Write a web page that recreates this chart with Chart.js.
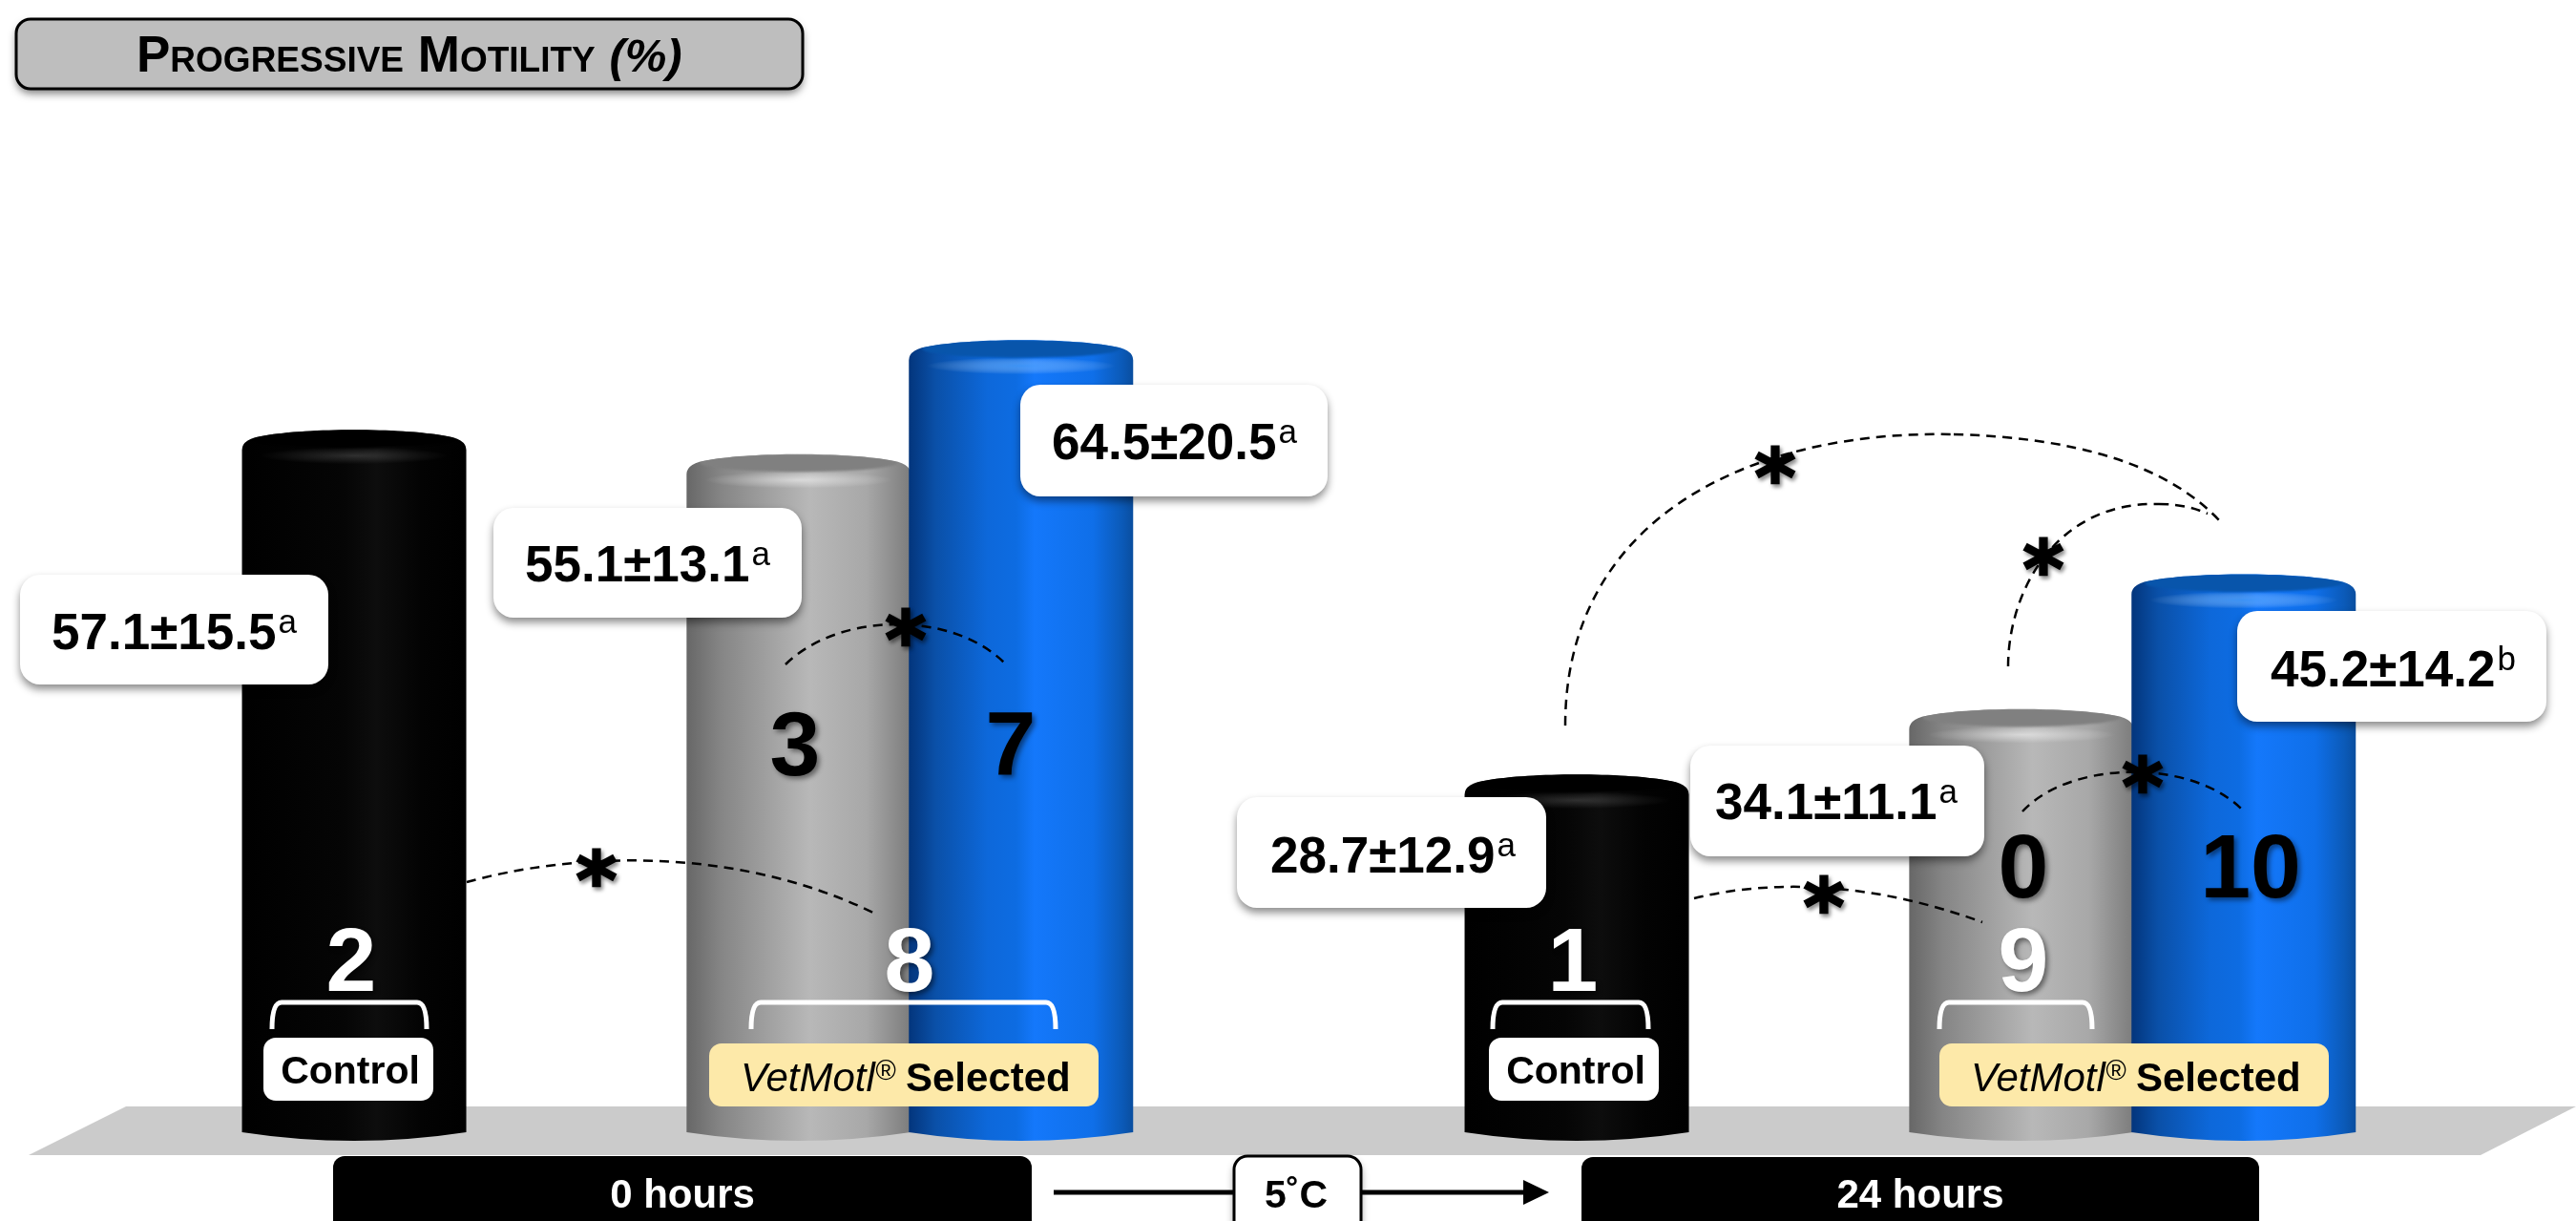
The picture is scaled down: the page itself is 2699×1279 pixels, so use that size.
<!DOCTYPE html>
<html>
<head>
<meta charset="utf-8">
<title>Progressive Motility</title>
<script src="https://cdn.jsdelivr.net/npm/chart.js@4"></script>
<style>
html, body { margin: 0; padding: 0; background: #fff; overflow: hidden; }
canvas { display: block; }
</style>
</head>
<body>
<canvas id="chartMotility" width="2699" height="1279"></canvas>
<script>
// blank slots only keep the gaps between the cylinders
const categories = ['Control 0 h', '', '', '', 'VetMotl 0 h (A)', '', 'VetMotl 0 h (B)', '', '', '', '', 'Control 24 h', '', '', '', 'VetMotl 24 h (A)', '', 'VetMotl 24 h (B)'];
const means = [57.1, null, null, null, 55.1, null, 64.5, null, null, null, null, 28.7, null, null, null, 34.1, null, 45.2];
const labelMeans = ['57.1', '55.1', '64.5', '28.7', '34.1', '45.2'];
const labelSds = ['15.5', '13.1', '20.5', '12.9', '11.1', '14.2'];
const labelLetters = ['a', 'a', 'a', 'a', 'a', 'b'];
const barKinds = ['black', null, null, null, 'gray', null, 'blue', null, null, null, null, 'black', null, null, null, 'gray', null, 'blue'];
const bigNumbers = ['2', '8', '3', '7', '1', '9', '0', '10'];
const titleText = 'Progressive Motility';
const stageLabels = ['0 hours', '24 hours'];

// cylinder colours
const palettes = {
    black: { face: '#000000', glow: 'rgba(255,255,255,0.16)', stops: [[0, '#000'], [0.45, '#050505'], [0.6, '#0d0d0d'], [0.8, '#030303'], [1, '#000']] },
    gray: { face: '#808080', glow: 'rgba(255,255,255,0.5)', stops: [[0, '#676767'], [0.15, '#858585'], [0.55, '#b8b8b8'], [0.8, '#a8a8a8'], [1, '#7c7c7c']] },
    blue: { face: '#0855ab', glow: 'rgba(90,170,255,0.6)', stops: [[0, '#03357c'], [0.12, '#0a50a8'], [0.35, '#0d68da'], [0.48, '#0d6ce2'], [0.56, '#1478fb'], [0.82, '#0f6fe9'], [0.95, '#0b5ab8'], [1, '#0a4e9f']] }
};

// pills with the mean +- sd: x, y, w, h, text x, baseline
const pills = [
    [21, 602, 323, 115, 54, 680],
    [517, 532, 323, 115, 550, 609],
    [1069, 403, 322, 117, 1102, 481],
    [1296, 835, 324, 116, 1331, 914],
    [1771, 781, 308, 116, 1797, 858],
    [2344, 640, 324, 116, 2379, 719]
];
// digit: x, baseline, colour
const bigNumberSpots = [
    [368, 1038, '#fff'], [953, 1038, '#fff'], [833, 812, '#000'], [1059, 812, '#000'],
    [1648, 1038, '#fff'], [2120, 1038, '#fff'], [2120, 940, '#000'], [2358, 940, '#000']
];
const brackets = [[285, 447], [787, 1106], [1564, 1727], [2032, 2192]];
const dashedCurves = [
    [[489, 924], [600, 893], [770, 885], [917, 957]],
    [[823, 696], [880, 640], [1000, 640], [1054, 696]],
    [[1775, 941], [1860, 920], [1965, 925], [2077, 966]],
    [[2119, 850], [2170, 795], [2300, 795], [2351, 850]],
    [[1640, 760], [1640, 540], [1838, 450], [2047, 455]],
    [[2047, 455], [2170, 458], [2270, 485], [2327, 547]],
    [[2104, 698], [2104, 620], [2154, 525], [2262, 528]],
    [[2262, 528], [2284, 528], [2299, 532], [2313, 538]]
];
const stars = [[625, 908], [949, 656], [1911, 936], [2245, 810], [1860, 486], [2141, 582]];

const roundBox = (ctx, x, y, w, h, r, fill, shadow) => {
    ctx.save();
    if (shadow) {
        ctx.shadowColor = 'rgba(0,0,0,0.45)';
        ctx.shadowBlur = 9;
        ctx.shadowOffsetY = 5;
    }
    ctx.beginPath();
    ctx.roundRect(x, y, w, h, r);
    ctx.fillStyle = fill;
    ctx.fill();
    ctx.restore();
};

const putText = (ctx, text, x, y, font, color, align = 'left') => {
    ctx.font = font;
    ctx.fillStyle = color;
    ctx.textAlign = align;
    ctx.textBaseline = 'alphabetic';
    ctx.fillText(text, x, y);
};

const drawCylinder = (ctx, el, kind) => {
    const p = palettes[kind];
    const x0 = el.x - el.width / 2;
    const x1 = el.x + el.width / 2;
    const top = el.y;
    const base = el.base;

    const grad = ctx.createLinearGradient(x0, 0, x1, 0);
    p.stops.forEach(s => grad.addColorStop(s[0], s[1]));

    ctx.save();
    ctx.beginPath();
    ctx.moveTo(x0, top + 21);
    ctx.quadraticCurveTo(x0, top + 9, x0 + 24, top + 6);
    ctx.bezierCurveTo(x0 + 70, top - 2, x1 - 70, top - 2, x1 - 24, top + 6);
    ctx.quadraticCurveTo(x1, top + 9, x1, top + 21);
    ctx.lineTo(x1, base + 10);
    ctx.quadraticCurveTo(el.x, base + 28, x0, base + 10);
    ctx.closePath();
    ctx.fillStyle = grad;
    ctx.fill();
    ctx.clip();

    // soft rim under the top face
    ctx.save();
    ctx.translate(el.x, top + 27);
    ctx.scale(1, 0.09);
    const glow = ctx.createRadialGradient(0, 0, 0, 0, 0, el.width * 0.42);
    glow.addColorStop(0, p.glow);
    glow.addColorStop(1, 'rgba(255,255,255,0)');
    ctx.fillStyle = glow;
    ctx.fillRect(-el.width / 2, -el.width / 2, el.width, el.width);
    ctx.restore();

    ctx.beginPath();
    ctx.ellipse(el.x, top + 9, el.width / 2 - 14, 9.5, 0, 0, Math.PI * 2);
    ctx.fillStyle = p.face;
    ctx.filter = 'blur(1px)';
    ctx.fill();
    ctx.restore();
};

const floorPlugin = {
    id: 'floorPlugin',
    beforeDatasetsDraw(chart) {
        const ctx = chart.ctx;
        ctx.save();
        ctx.beginPath();
        ctx.moveTo(132, 1159);
        ctx.lineTo(2699, 1159);
        ctx.lineTo(2599, 1210);
        ctx.lineTo(30, 1210);
        ctx.closePath();
        ctx.fillStyle = '#cbcbcb';
        ctx.fill();
        ctx.restore();
    }
};

// the bars take their place and height from the chart, only the look is replaced
const cylinderPlugin = {
    id: 'cylinderPlugin',
    beforeDatasetDraw(chart, args) {
        args.meta.data.forEach((el, i) => {
            if (means[i] !== null) drawCylinder(chart.ctx, el, barKinds[i]);
        });
        return false;
    }
};

const notesPlugin = {
    id: 'notesPlugin',
    afterDatasetsDraw(chart) {
        const ctx = chart.ctx;
        ctx.save();

        // title
        ctx.save();
        ctx.shadowColor = 'rgba(0,0,0,0.5)';
        ctx.shadowBlur = 9;
        ctx.shadowOffsetY = 5;
        ctx.beginPath();
        ctx.roundRect(17, 20, 824, 73, 15);
        ctx.fillStyle = '#bebebe';
        ctx.fill();
        ctx.restore();
        ctx.beginPath();
        ctx.roundRect(17, 20, 824, 73, 15);
        ctx.lineWidth = 3;
        ctx.strokeStyle = '#000';
        ctx.stroke();
        putText(ctx, titleText, 143, 75, 'small-caps bold 53px "Liberation Sans"', '#000');
        const titleW = ctx.measureText(titleText + ' ').width;
        putText(ctx, '(%)', 143 + titleW, 75, 'italic bold 49px "Liberation Sans"', '#000');

        // mean +- sd boxes
        pills.forEach((p, i) => {
            roundBox(ctx, p[0], p[1], p[2], p[3], 21, '#fff', true);
            const txt = labelMeans[i] + '±' + labelSds[i];
            putText(ctx, txt, p[4], p[5], 'bold 53px "Liberation Sans"', '#000');
            const w = ctx.measureText(txt).width;
            putText(ctx, labelLetters[i], p[4] + w + 2, p[5] - 17, '35px "Liberation Sans"', '#000');
        });

        // dashed links
        ctx.save();
        ctx.setLineDash([10, 7]);
        ctx.lineWidth = 2.5;
        ctx.strokeStyle = '#000';
        dashedCurves.forEach(c => {
            ctx.beginPath();
            ctx.moveTo(c[0][0], c[0][1]);
            ctx.bezierCurveTo(c[1][0], c[1][1], c[2][0], c[2][1], c[3][0], c[3][1]);
            ctx.stroke();
        });
        ctx.restore();

        // asterisks, centred on their ink
        ctx.save();
        ctx.shadowColor = 'rgba(0,0,0,0.4)';
        ctx.shadowBlur = 4;
        ctx.shadowOffsetX = 2;
        ctx.shadowOffsetY = 3;
        stars.forEach(s => {
            ctx.font = 'bold 82px "DejaVu Sans"';
            ctx.textAlign = 'center';
            ctx.textBaseline = 'alphabetic';
            ctx.fillStyle = '#000';
            ctx.strokeStyle = '#000';
            ctx.lineWidth = 2.5;
            const m = ctx.measureText('*');
            const yy = s[1] + (m.actualBoundingBoxAscent - m.actualBoundingBoxDescent) / 2;
            ctx.fillText('*', s[0], yy);
            ctx.strokeText('*', s[0], yy);
        });
        ctx.restore();

        // big numbers
        ctx.save();
        ctx.shadowColor = 'rgba(0,0,0,0.45)';
        ctx.shadowBlur = 5;
        ctx.shadowOffsetX = 3;
        ctx.shadowOffsetY = 3;
        bigNumbers.forEach((n, i) => {
            const s = bigNumberSpots[i];
            putText(ctx, n, s[0], s[1], 'bold 95px "Liberation Sans"', s[2], 'center');
        });
        ctx.restore();

        // brackets
        ctx.lineWidth = 5;
        ctx.strokeStyle = '#fff';
        brackets.forEach(b => {
            ctx.beginPath();
            ctx.moveTo(b[0], 1078);
            ctx.quadraticCurveTo(b[0], 1050, b[0] + 10, 1050);
            ctx.lineTo(b[1] - 10, 1050);
            ctx.quadraticCurveTo(b[1], 1050, b[1], 1078);
            ctx.stroke();
        });

        // group labels
        [[276, 178], [1560, 178]].forEach(b => {
            roundBox(ctx, b[0], 1087, b[1], 66, 13, '#fff', false);
            putText(ctx, 'Control', b[0] + b[1] / 2 + 2, 1135, 'bold 41px "Liberation Sans"', '#000', 'center');
        });
        [[743, 408, 776], [2032, 408, 2065]].forEach(b => {
            roundBox(ctx, b[0], 1093, b[1], 66, 13, '#fde9a9', false);
            putText(ctx, 'VetMotl', b[2], 1143, 'italic 42px "Liberation Sans"', '#000');
            putText(ctx, '®', b[2] + 141, 1131, 'italic 29px "Liberation Sans"', '#000');
            putText(ctx, 'Selected', b[2] + 173, 1143, 'bold 42px "Liberation Sans"', '#000');
        });

        // time bars and arrow
        roundBox(ctx, 349, 1211, 732, 90, 12, '#000', false);
        roundBox(ctx, 1657, 1212, 710, 90, 12, '#000', false);
        putText(ctx, stageLabels[0], 715, 1265, 'bold 42px "Liberation Sans"', '#fff', 'center');
        putText(ctx, stageLabels[1], 2012, 1265, 'bold 42px "Liberation Sans"', '#fff', 'center');

        ctx.lineWidth = 5;
        ctx.strokeStyle = '#000';
        ctx.beginPath();
        ctx.moveTo(1104, 1249);
        ctx.lineTo(1600, 1249);
        ctx.stroke();
        ctx.beginPath();
        ctx.moveTo(1596, 1236);
        ctx.lineTo(1623, 1249);
        ctx.lineTo(1596, 1262);
        ctx.closePath();
        ctx.fillStyle = '#000';
        ctx.fill();

        roundBox(ctx, 1293, 1211, 133, 90, 14, '#fff', true);
        ctx.beginPath();
        ctx.roundRect(1293, 1211, 133, 90, 14);
        ctx.lineWidth = 3;
        ctx.stroke();
        putText(ctx, '5˚C', 1358, 1265, 'bold 41px "Liberation Sans"', '#000', 'center');

        ctx.restore();
    }
};

const chartMotility = new Chart(document.getElementById('chartMotility'), {
    type: 'bar',
    data: {
        labels: categories,
        datasets: [{
            label: 'Progressive Motility (%)',
            data: means,
            barThickness: 235
        }]
    },
    options: {
        responsive: false,
        animation: false,
        events: [],
        layout: { padding: { left: 312.8, right: 290 } },
        plugins: { legend: { display: false }, tooltip: { enabled: false } },
        scales: {
            x: { display: false },
            y: { display: false, min: -8.1, max: 92.53 }
        }
    },
    plugins: [floorPlugin, cylinderPlugin, notesPlugin]
});
</script>
</body>
</html>
